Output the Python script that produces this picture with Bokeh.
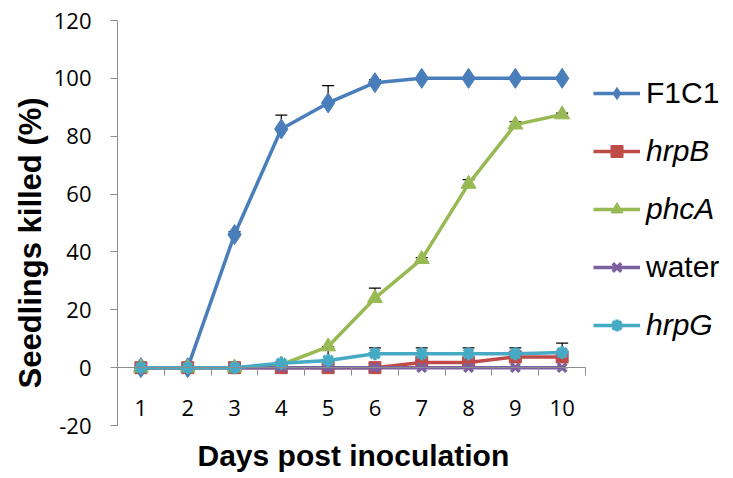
from bokeh.plotting import figure
from bokeh.models import (ColumnDataSource, Range1d, FixedTicker, Whisker, TeeHead,
                          Legend, LegendItem, Title)
from bokeh.embed import file_html
from bokeh.resources import INLINE

days = [1, 2, 3, 4, 5, 6, 7, 8, 9, 10]
f1c1 = [0, 0, 46, 82.5, 91.5, 98.5, 100, 100, 100, 100]
f1c1_err = [0, 0, 1, 4.8, 6, 1, 0, 0, 0, 0]
hrpb = [0, 0, 0, 0, 0, 0, 1.8, 1.8, 3.7, 3.7]
hrpb_err = [0, 0, 0, 0, 0, 0, 0.5, 0.5, 0.5, 0.5]
phca = [0, 0, 0, 1, 7.3, 24, 37.5, 63.5, 84, 87.5]
phca_err = [0, 0, 0, 0, 0, 3.5, 0.5, 1.5, 1, 0.5]
water = [0, 0, 0, 0, 0, 0, 0, 0, 0, 0]
water_err = [0, 0, 0, 0, 0, 0, 0, 0, 0, 0]
hrpg = [0, 0, 0, 1.5, 2.5, 4.8, 4.8, 4.8, 4.8, 5.2]
hrpg_err = [0, 0, 0, 0, 4, 2, 2, 2, 2, 3.3]
y_ticks = [-20, 0, 20, 40, 60, 80, 100, 120]
y_tick_labels = ["-20", "0", "20", "40", "60", "80", "100", "120"]

series = [
    ("F1C1", f1c1, f1c1_err, "#4A7EBB", "diamond", 20, "normal"),
    ("hrpB", hrpb, hrpb_err, "#BE4B48", "square", 12, "italic"),
    ("phcA", phca, phca_err, "#98B954", "triangle", 15, "italic"),
    ("water", water, water_err, "#7D60A0", "x", 12, "normal"),
    ("hrpG", hrpg, hrpg_err, "#46AAC5", "asterisk", 13, "italic"),
]

p = figure(frame_width=608, frame_height=405, output_backend="svg",
           toolbar_location=None,
           x_range=Range1d(0.5, 13.49), y_range=Range1d(-20, 120),
           min_border_left=117, min_border_right=0, min_border_top=20,
           min_border_bottom=50)
p.outline_line_color = None
p.xgrid.grid_line_color = None
p.ygrid.grid_line_color = None
p.background_fill_color = "white"

# y axis
yax = p.yaxis[0]
yax.ticker = FixedTicker(ticks=y_ticks)
yax.major_label_overrides = dict(zip(y_ticks, y_tick_labels))
yax.axis_line_color = "#8C8C8C"
yax.major_tick_line_color = "#8C8C8C"
yax.major_tick_out = 7
yax.major_tick_in = 0
yax.minor_tick_line_color = None
yax.major_label_text_font = "Open Sans"
yax.major_label_text_font_size = "22px"
yax.major_label_text_color = "black"
yax.major_label_standoff = 19

p.add_layout(Title(text="Seedlings killed (%)", align="left", offset=37,
                   standoff=6,
                   text_font="Liberation Sans", text_font_style="bold",
                   text_font_size="31px", text_color="black"), "left")

# x axis at y = 0
xax = p.xaxis[0]
xax.fixed_location = 0
xax.bounds = (0.5, 10.5)
xax.ticker = FixedTicker(ticks=days, minor_ticks=[d - 0.5 for d in days] + [10.5])
xax.axis_line_color = "#8C8C8C"
xax.major_tick_line_color = None
xax.minor_tick_line_color = "#8C8C8C"
xax.minor_tick_out = 8
xax.minor_tick_in = 0
xax.major_label_text_font = "Open Sans"
xax.major_label_text_font_size = "22px"
xax.major_label_text_color = "black"
xax.major_label_standoff = 24

p.add_layout(Title(text="Days post inoculation", align="left", offset=80,
                   standoff=22,
                   text_font="Liberation Sans", text_font_style="bold",
                   text_font_size="30px", text_color="black"), "below")

renderers = []
for name, ys, errs, color, marker, size, style in series:
    upper = [y + e for y, e in zip(ys, errs)]
    src = ColumnDataSource(dict(x=days, y=ys, upper=upper))
    w = Whisker(source=src, base="x", lower="y", upper="upper",
                line_color="black", line_width=1.2,
                upper_head=TeeHead(size=12, line_color="black", line_width=1.2),
                lower_head=None)
    p.add_layout(w)
    ln = p.line("x", "y", source=src, line_color=color, line_width=3.5)
    if marker in ("x", "asterisk"):
        mk = p.scatter("x", "y", source=src, marker=marker, size=size,
                       line_color=color, line_width=3.5)
    else:
        mk = p.scatter("x", "y", source=src, marker=marker, size=size,
                       fill_color=color, line_color=color)
    renderers.append((name, [ln, mk], style))

for i, (name, rs, style) in enumerate(renderers):
    leg = Legend(items=[LegendItem(label=name, renderers=rs)],
                 location=(476, 83 + (4 - i) * 58),
                 orientation="vertical", background_fill_alpha=0,
                 border_line_color=None, padding=0, margin=0,
                 glyph_width=47, glyph_height=30, label_height=30,
                 label_standoff=6,
                 label_text_font="Liberation Sans", label_text_font_size="30px",
                 label_text_font_style=style, label_text_color="black")
    p.add_layout(leg, "center")

open("out.html", "w").write(file_html(p, INLINE))
